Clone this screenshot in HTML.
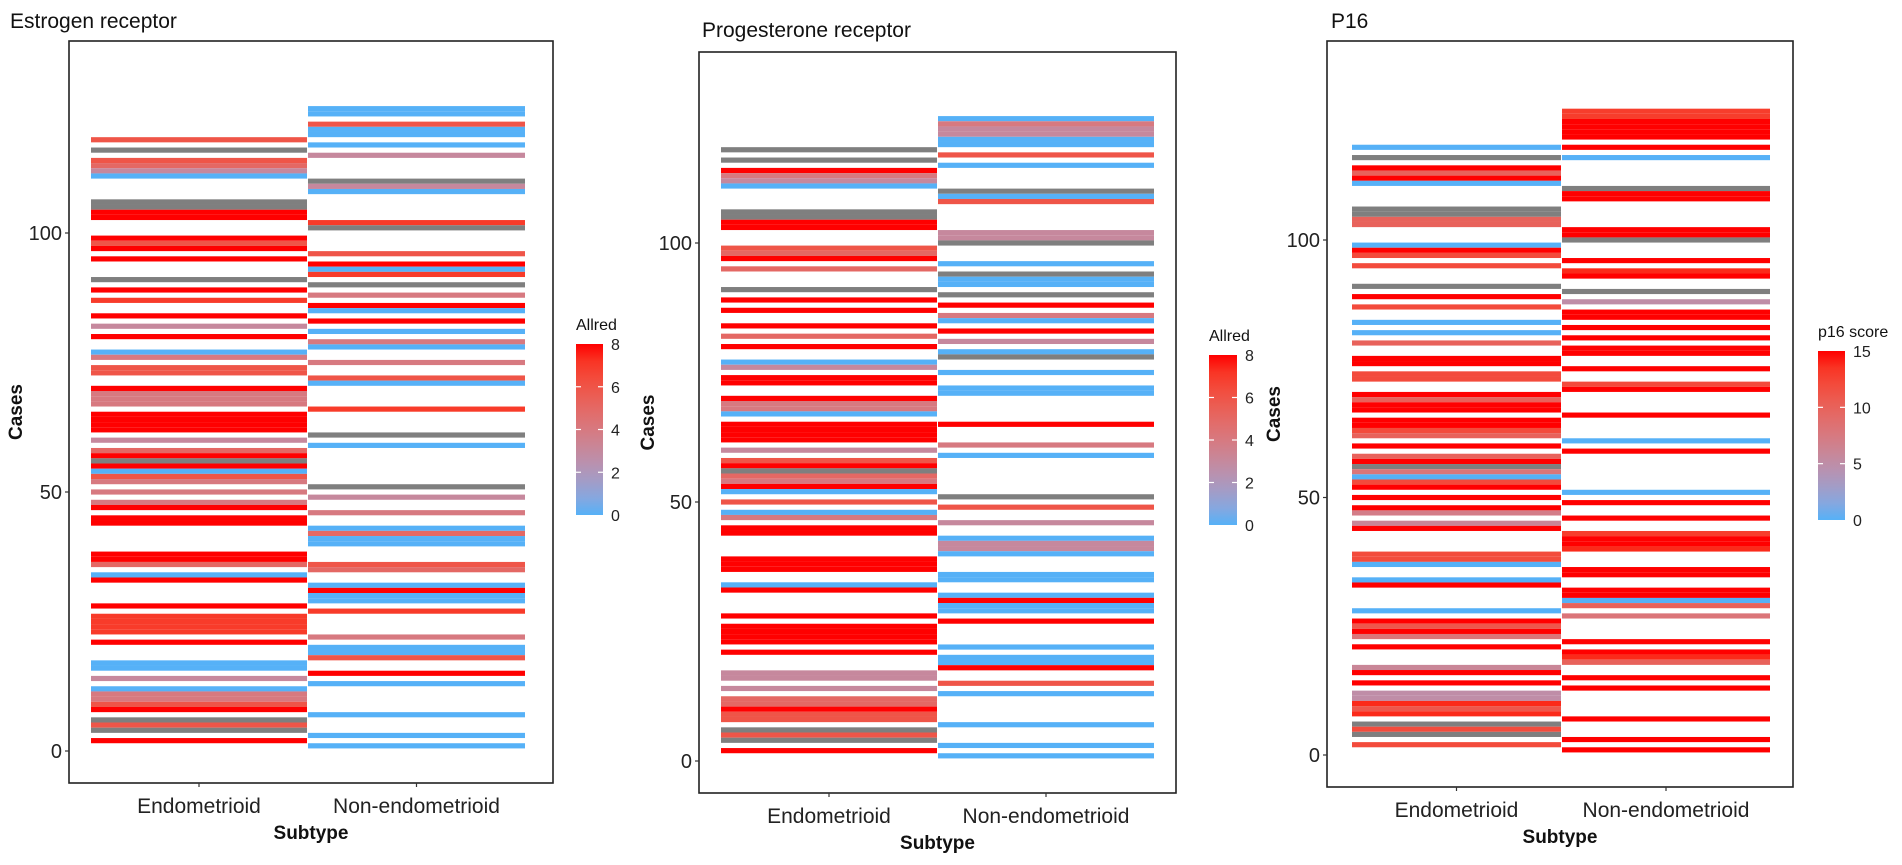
<!DOCTYPE html>
<html><head><meta charset="utf-8">
<style>
html,body{margin:0;padding:0;background:#fff;}
svg{display:block;font-family:"Liberation Sans",Arial,sans-serif;}
</style></head>
<body>
<svg id="chart" width="1902" height="865" viewBox="0 0 1902 865" xmlns="http://www.w3.org/2000/svg"></svg>
<script>
// ---------- data ----------
const subtypes = ["Endometrioid", "Non-endometrioid"];
const yTicks = [0, 50, 100];
const allredTicks = [0, 2, 4, 6, 8];
const p16Ticks = [0, 5, 10, 15];

const erEndoCases = [118,116,114,113,112,111,106,105,104,103,99,98,97,95,91,89,87,84,82,80,77,76,74,73,70,69,68,67,65,64,63,62,60,58,57,56,55,54,53,52,50,48,47,45,44,38,37,36,34,33,28,26,25,24,23,21,17,16,14,12,11,10,9,8,6,5,4,2];
const erEndoVals  = [6,null,6,5,3,0,null,null,8,8,8,6,8,8,null,8,7,8,3,8,0,4,6,6,8,4,4,4,8,8,8,8,3,5,8,null,8,0,6,4,4,4,8,8,8,8,8,5,0,8,8,7,7,7,7,8,0,0,3,0,4,4,6,8,null,6,null,8];
const erNonCases = [124,123,121,120,119,117,115,110,109,108,102,101,96,94,93,92,90,88,86,85,83,81,79,78,75,72,71,66,61,59,51,49,46,43,42,41,40,36,35,32,31,30,29,27,22,20,19,18,15,13,7,3,1];
const erNonVals  = [0,0,6,0,0,0,3,null,3,0,7,null,6,8,0,7,null,4,8,0,8,0,4,0,4,6,0,7,null,0,null,3,4,0,5,0,0,6,5,0,8,0,0,7,4,0,0,6,8,0,0,0,0];

const prEndoCases = [118,116,114,113,112,111,106,105,104,103,99,98,97,95,91,89,87,84,82,80,77,76,74,73,70,69,68,67,65,64,63,62,60,58,57,56,55,54,53,52,50,48,47,45,44,39,38,37,34,33,28,26,25,24,23,21,17,16,14,12,11,10,9,8,6,5,4,2];
const prEndoVals  = [null,null,8,4,3,0,null,null,8,8,6,5,8,5,null,8,8,8,5,8,0,3,8,8,8,4,4,0,8,8,8,8,3,6,8,null,5,4,8,0,6,0,4,8,8,8,8,8,0,8,8,8,8,8,8,8,3,3,3,5,5,8,6,6,null,6,null,8];
const prNonCases = [124,123,122,121,120,119,117,115,110,109,108,102,101,100,96,94,93,92,90,88,86,85,83,81,79,78,75,72,71,65,61,59,51,49,46,43,42,41,40,36,35,32,31,30,29,27,22,20,19,18,15,13,7,3,1];
const prNonVals  = [0,4,3,3,0,0,6,0,null,0,6,3,3,null,0,null,0,0,null,8,4,0,8,3,0,null,0,0,0,8,4,0,null,6,3,0,3,3,0,0,0,0,8,0,0,8,0,0,0,8,6,0,0,0,0];

const p16EndoCases = [118,116,114,113,112,111,106,105,104,103,99,98,97,95,91,89,87,84,82,80,77,76,74,73,70,69,68,67,65,64,63,62,60,58,57,56,55,54,53,52,50,48,47,45,44,39,38,37,34,33,28,26,25,24,23,21,17,16,14,12,11,10,9,8,6,5,4,2];
const p16EndoVals  = [0,null,15,10,15,0,null,null,10,10,0,15,12,12,null,15,12,0,0,10,15,15,12,12,15,10,15,15,15,15,12,10,15,10,15,null,8,0,12,15,15,15,7,6,15,12,12,0,0,15,0,15,11,15,8,15,6,15,15,5,5,14,11,14,null,12,null,12];
const p16NonCases = [125,124,123,122,121,120,118,116,110,109,108,102,101,100,96,94,93,90,88,86,85,83,81,79,78,75,72,71,66,61,59,51,49,46,43,42,41,40,36,35,32,31,30,29,27,22,20,19,18,15,13,7,3,1];
const p16NonVals  = [13,13,15,15,15,15,15,0,null,15,15,15,15,null,15,14,15,null,5,15,15,15,15,15,15,15,12,15,15,0,15,0,15,15,13,15,15,14,15,15,15,15,0,10,8,15,15,14,10,15,15,15,15,15];

// ---------- colour scale (Lab interpolation like ggplot) ----------
function srgb2lin(c){c/=255;return c<=0.04045?c/12.92:Math.pow((c+0.055)/1.055,2.4);}
function lin2srgb(c){c=c<=0.0031308?12.92*c:1.055*Math.pow(c,1/2.4)-0.055;return Math.max(0,Math.min(255,Math.round(c*255)));}
function rgb2lab(r,g,b){r=srgb2lin(r);g=srgb2lin(g);b=srgb2lin(b);
 let x=(0.4124*r+0.3576*g+0.1805*b)/0.95047,y=(0.2126*r+0.7152*g+0.0722*b),z=(0.0193*r+0.1192*g+0.9505*b)/1.08883;
 const f=t=>t>0.008856?Math.cbrt(t):7.787*t+16/116;x=f(x);y=f(y);z=f(z);
 return [116*y-16,500*(x-y),200*(y-z)];}
function lab2rgb(L,a,bb){let y=(L+16)/116,x=a/500+y,z=y-bb/200;
 const fi=t=>t*t*t>0.008856?t*t*t:(t-16/116)/7.787;x=fi(x)*0.95047;y=fi(y);z=fi(z)*1.08883;
 const r=3.2406*x-1.5372*y-0.4986*z,g=-0.9689*x+1.8758*y+0.0415*z,b=0.0557*x-0.2040*y+1.0570*z;
 return `rgb(${lin2srgb(r)},${lin2srgb(g)},${lin2srgb(b)})`;}
const LOW=rgb2lab(86,177,247), HIGH=rgb2lab(255,0,0);
function colorFor(v,max){if(v===null)return "#7f7f7f";const t=Math.max(0,Math.min(1,v/max));
 return lab2rgb(LOW[0]+(HIGH[0]-LOW[0])*t,LOW[1]+(HIGH[1]-LOW[1])*t,LOW[2]+(HIGH[2]-LOW[2])*t);}

// ---------- drawing ----------
const NS="http://www.w3.org/2000/svg";
const svg=document.getElementById("chart");
function mk(tag,attrs,parent){const e=document.createElementNS(NS,tag);for(const k in attrs)e.setAttribute(k,attrs[k]);(parent||svg).appendChild(e);return e;}

const panels=[
 {key:"er",title:"Estrogen receptor",titleX:10,titleY:28,box:[69,41,553,783],y0:751,k:5.18,cols:[[91,307],[308,525]],
  endo:[erEndoCases,erEndoVals],non:[erNonCases,erNonVals],max:8,ticks:allredTicks,legTitle:"Allred",leg:[576,344,603,515],legTitleY:330,casesX:22},
 {key:"pr",title:"Progesterone receptor",titleX:702,titleY:37,box:[699,52,1176,793],y0:761,k:5.18,cols:[[721,937],[938,1154]],
  endo:[prEndoCases,prEndoVals],non:[prNonCases,prNonVals],max:8,ticks:allredTicks,legTitle:"Allred",leg:[1209,355,1237,525],legTitleY:341,casesX:654},
 {key:"p16",title:"P16",titleX:1331,titleY:28,box:[1327,41,1793,787],y0:755,k:5.15,cols:[[1352,1561],[1562,1770]],
  endo:[p16EndoCases,p16EndoVals],non:[p16NonCases,p16NonVals],max:15,ticks:p16Ticks,legTitle:"p16 score",leg:[1818,351,1845,520],legTitleY:337,casesX:1280}
];

panels.forEach(p=>{
 const g=mk("g",{});
 
 
 const yS=v=>p.y0-p.k*v;
 const [bx0,by0,bx1,by1]=p.box;
 const t=mk("text",{x:p.titleX,y:p.titleY,"font-size":21,fill:"#111"},g);t.textContent=p.title;
 
 
 // tiles
 [p.endo,p.non].forEach((col,ci)=>{
  const [cases,vals]=col;const [cx0,cx1]=p.cols[ci];
  cases.forEach((c,i)=>{
   const r=mk("rect",{x:cx0,y:yS(c+0.5),width:cx1-cx0,height:p.k*1.0,fill:colorFor(vals[i],p.max)},g);
   
   
  });
 });
 // box
 const bx=mk("rect",{x:bx0,y:by0,width:bx1-bx0,height:by1-by0,fill:"none",stroke:"#222","stroke-width":1.6},g);
 
 
 // y ticks
 yTicks.forEach(v=>{
  const y=yS(v);
  mk("line",{x1:bx0-4,x2:bx0,y1:y,y2:y,stroke:"#333","stroke-width":1.2},g);
  const tl=mk("text",{x:bx0-7,y:y+7,"font-size":20,"text-anchor":"end",fill:"#222"},g);tl.textContent=v;
  
  
 });
 // x ticks
 subtypes.forEach((s,i)=>{
  const cx=(p.cols[i][0]+p.cols[i][1])/2;
  mk("line",{x1:cx,x2:cx,y1:by1,y2:by1+4,stroke:"#333","stroke-width":1.2},g);
  const xl=mk("text",{x:cx,y:by1+30,"font-size":21,"text-anchor":"middle",fill:"#222"},g);xl.textContent=s;
  
  
 });
 const xt=mk("text",{x:(bx0+bx1)/2,y:by1+56,"font-size":19,"font-weight":"bold","text-anchor":"middle",fill:"#111"},g);xt.textContent="Subtype";
 
 
 const yMid=(by0+by1)/2;
 const yt=mk("text",{x:p.casesX,y:yMid,"font-size":19,"font-weight":"bold","text-anchor":"middle",fill:"#111",transform:`rotate(-90 ${p.casesX} ${yMid})`},g);yt.textContent="Cases";
 
 
 // legend
 const [lx0,ly0,lx1,ly1]=p.leg;
 const gid="grad-"+p.key;
 const defs=mk("defs",{},g);
 const lg=mk("linearGradient",{id:gid,x1:0,y1:1,x2:0,y2:0},defs);
 for(let i=0;i<=10;i++){mk("stop",{offset:i/10,"stop-color":colorFor(p.max*i/10,p.max)},lg);}
 const lt=mk("text",{x:lx0,y:p.legTitleY,"font-size":16,fill:"#111"},g);lt.textContent=p.legTitle;
 
 
 const bar=mk("rect",{x:lx0,y:ly0,width:lx1-lx0,height:ly1-ly0,fill:`url(#${gid})`},g);
 
 
 p.ticks.forEach(v=>{
  const y=ly1-(ly1-ly0)*v/p.max;
  if(v>0&&v<p.max){mk("line",{x1:lx0,x2:lx0+5,y1:y,y2:y,stroke:"#fff","stroke-width":1.2},g);mk("line",{x1:lx1-5,x2:lx1,y1:y,y2:y,stroke:"#fff","stroke-width":1.2},g);}
  const tl=mk("text",{x:lx1+8,y:y+6,"font-size":16,fill:"#222"},g);tl.textContent=v;
  
  
 });
});
</script>
</body></html>
